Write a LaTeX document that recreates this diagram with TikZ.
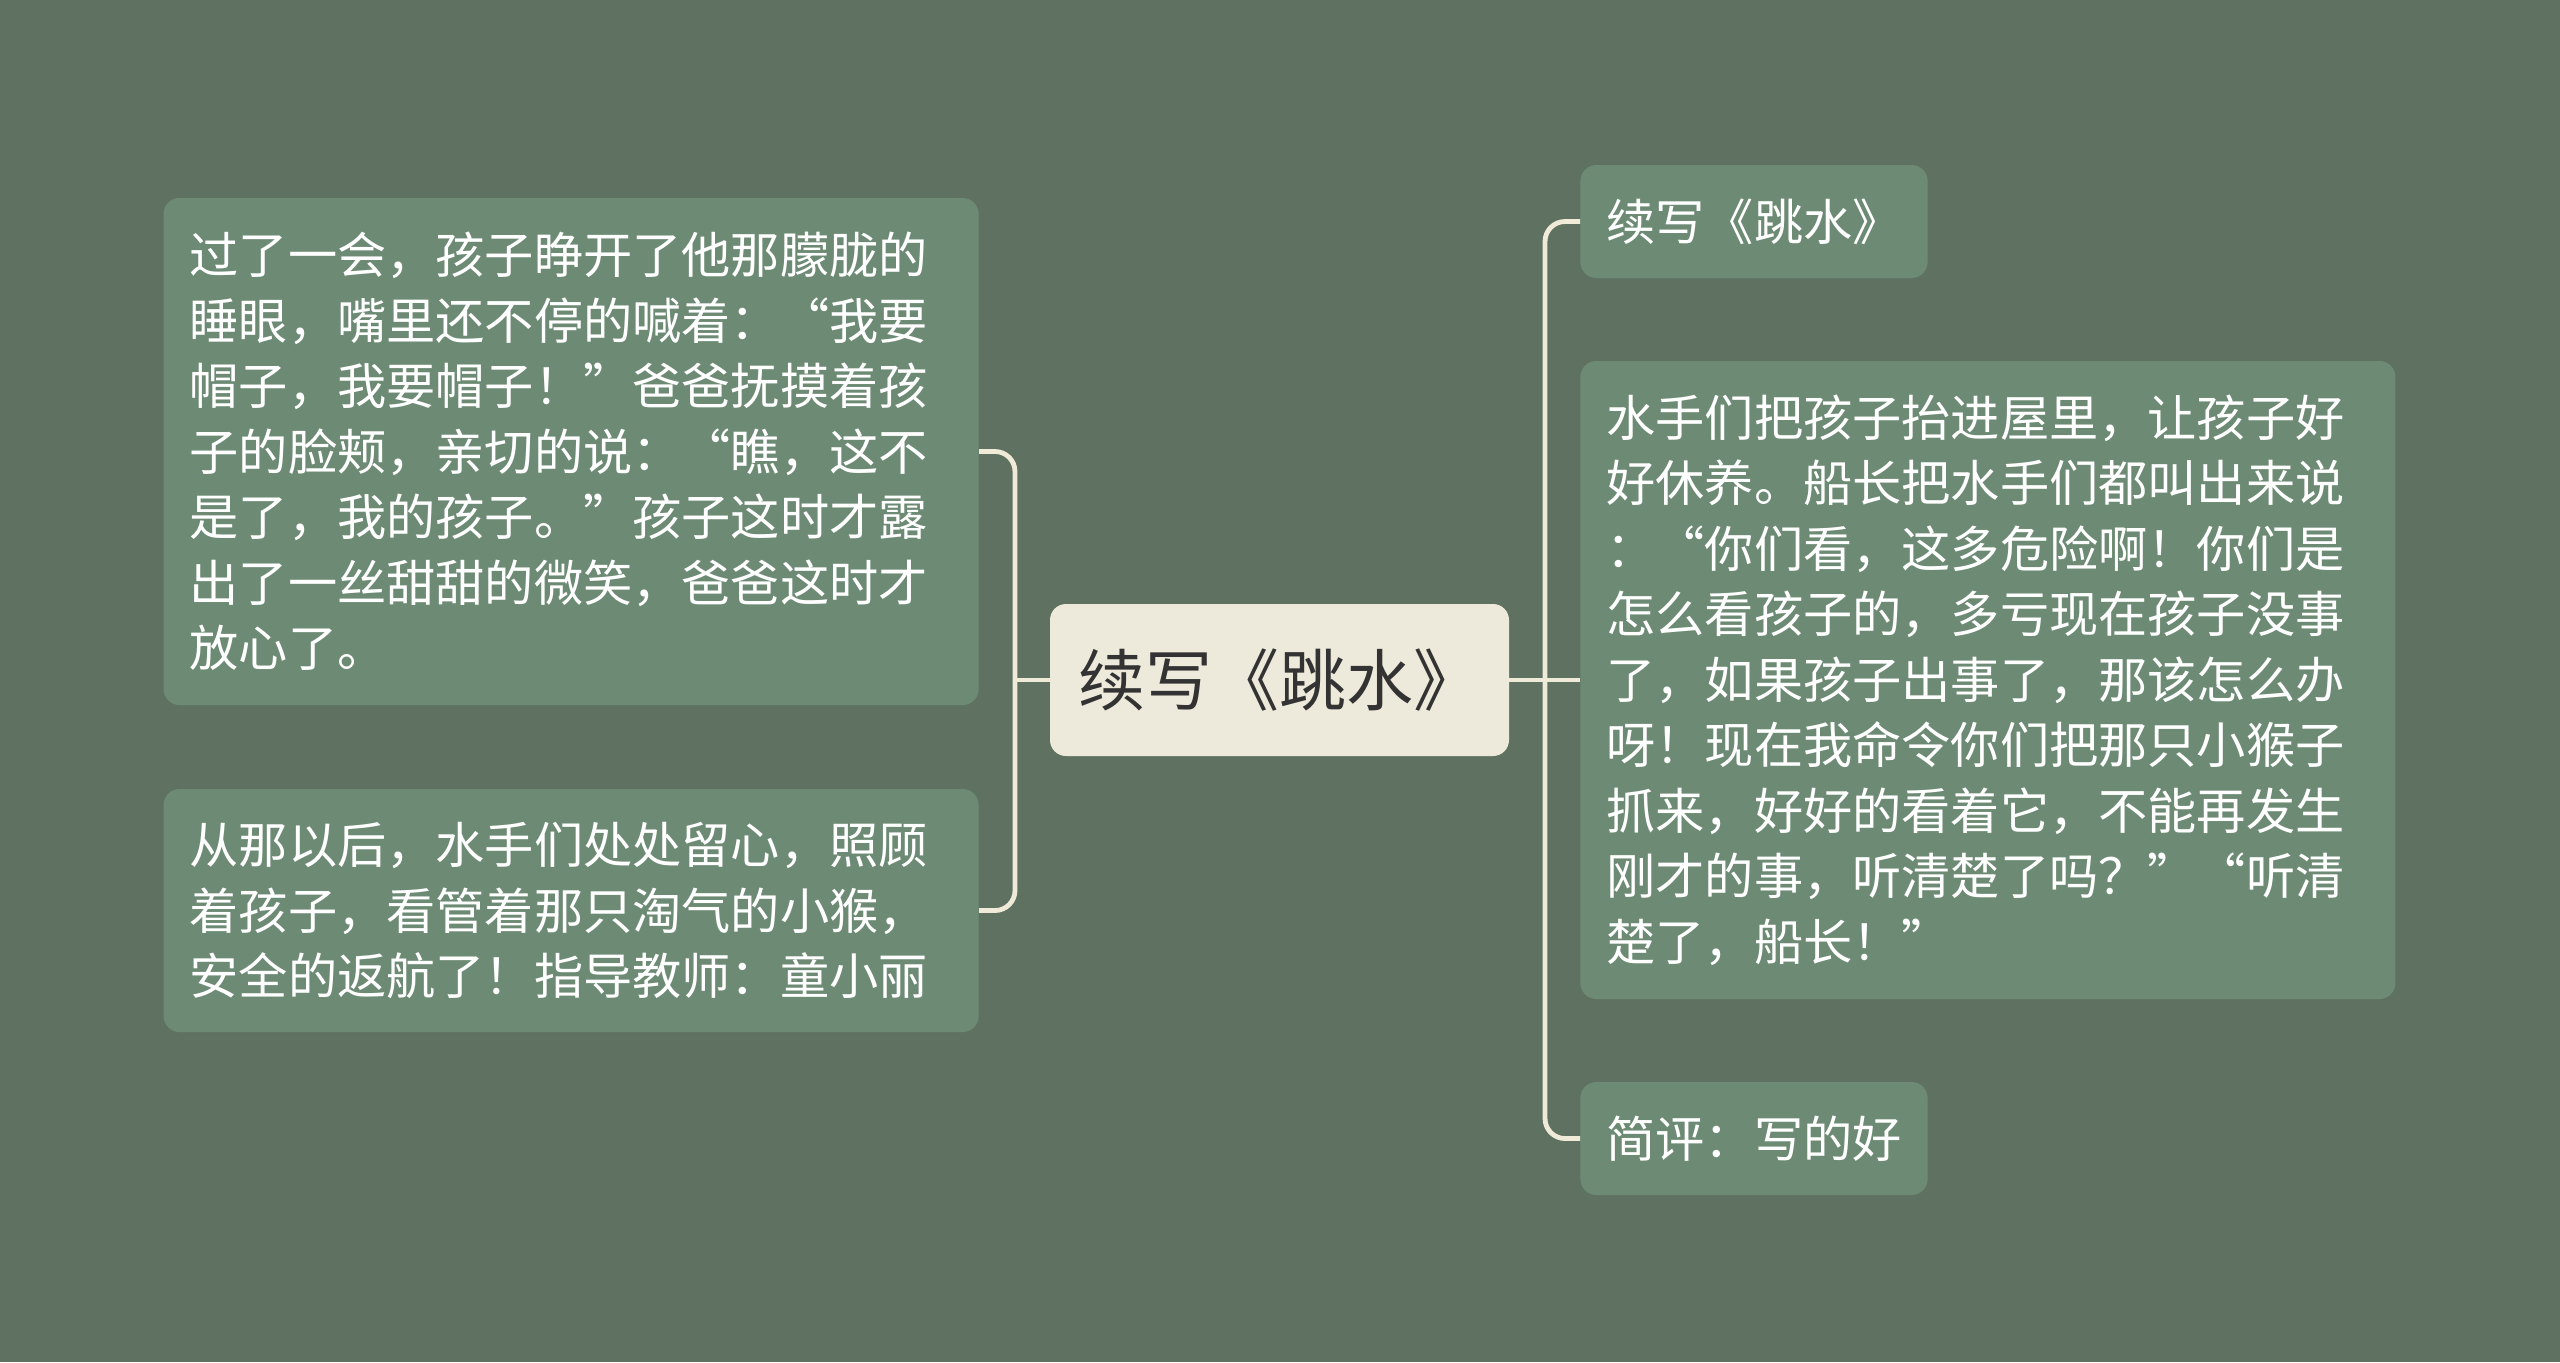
\documentclass[tikz,border=0pt]{standalone}
\usepackage{fontspec}
\setmainfont{Noto Sans CJK SC}
\definecolor{bgcol}{HTML}{5F7262}
\definecolor{boxcol}{HTML}{6D8B74}
\definecolor{topcol}{HTML}{EEEADB}
\definecolor{linkcol}{HTML}{F0EBD8}
\definecolor{inkcol}{HTML}{333333}
\tikzset{
  leaf/.style={rectangle, rounded corners=8pt, fill=boxcol, text=white,
    inner xsep=13pt, inner ysep=4pt, align=left,
    font=\fontsize{24.6pt}{32.75pt}\selectfont},
  topic/.style={rectangle, rounded corners=8pt, fill=topcol, text=inkcol,
    inner xsep=12pt, minimum width=229.5pt, minimum height=76pt,
    font=\fontsize{33.5pt}{40pt}\selectfont},
  link/.style={draw=linkcol, line width=2.4pt, rounded corners=10pt}
}
\begin{document}
\begin{tikzpicture}[x=0.5pt,y=0.5pt]
\useasboundingbox[fill=bgcol] (0,0) rectangle (2560,-1362);
% centre
\node[topic] (ctr) at (1279.5,-680) {续写《跳水》};
% left side
\node[leaf, anchor=east, text width=381.5pt, minimum height=253.5pt] (wake) at (979,-451.5)
  {过了一会，孩子睁开了他那朦胧的\\睡眼，嘴里还不停的喊着：“我要\\帽子，我要帽子！”爸爸抚摸着孩\\子的脸颊，亲切的说：“瞧，这不\\是了，我的孩子。”孩子这时才露\\出了一丝甜甜的微笑，爸爸这时才\\放心了。};
\node[leaf, anchor=east, text width=381.5pt, minimum height=121.5pt] (home) at (979,-910.5)
  {从那以后，水手们处处留心，照顾\\着孩子，看管着那只淘气的小猴，\\安全的返航了！指导教师：童小丽};
% right side
\node[leaf, anchor=west, minimum height=56.5pt] (title) at (1580,-221.5) {续写《跳水》};
\node[leaf, anchor=west, text width=381.5pt, minimum height=319pt] (rest) at (1580,-680)
  {水手们把孩子抬进屋里，让孩子好\\好休养。船长把水手们都叫出来说\\：“你们看，这多危险啊！你们是\\怎么看孩子的，多亏现在孩子没事\\了，如果孩子出事了，那该怎么办\\呀！现在我命令你们把那只小猴子\\抓来，好好的看着它，不能再发生\\刚才的事，听清楚了吗？”“听清\\楚了，船长！”};
\node[leaf, anchor=west, minimum height=56.5pt] (note) at (1580,-1138.5) {简评：写的好};
% links
\coordinate (ljoin) at (1015,-680);
\coordinate (rjoin) at (1545,-680);
\draw[link] (ctr.west) -- (ljoin);
\draw[link] (ljoin) |- (wake.east);
\draw[link] (ljoin) |- (home.east);
\draw[link] (ctr.east) -- (rest.west);
\draw[link] (rjoin) |- (title.west);
\draw[link] (rjoin) |- (note.west);
\end{tikzpicture}
\end{document}
